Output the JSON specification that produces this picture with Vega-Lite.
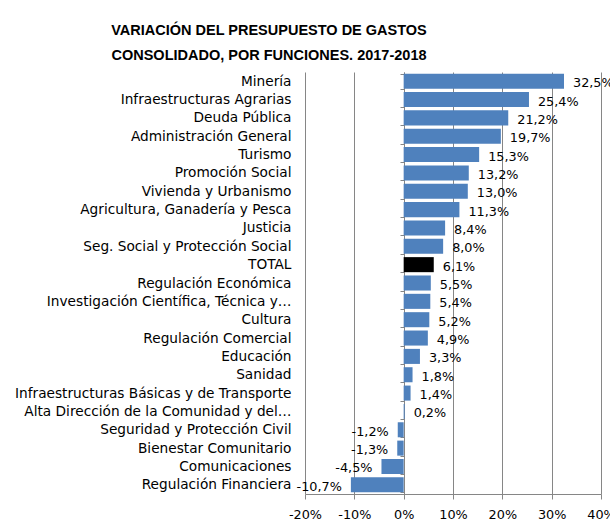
{
  "$schema": "https://vega.github.io/schema/vega-lite/v6.json",
  "autosize": "none",
  "width": 296,
  "height": 422,
  "padding": {"left": 305, "top": 72, "right": 9, "bottom": 34},
  "background": "white",
  "title": {
    "text": ["VARIACIÓN DEL PRESUPUESTO DE GASTOS", "CONSOLIDADO, POR FUNCIONES. 2017-2018"],
    "anchor": "middle",
    "frame": "group",
    "dx": -184,
    "offset": 2,
    "font": "Liberation Sans",
    "fontSize": 14.5,
    "fontWeight": "bold",
    "lineHeight": 25,
    "color": "black"
  },
  "data": {
    "values": [
      {"funcion": "Minería", "variacion": 0.325},
      {"funcion": "Infraestructuras Agrarias", "variacion": 0.254},
      {"funcion": "Deuda Pública", "variacion": 0.212},
      {"funcion": "Administración General", "variacion": 0.197},
      {"funcion": "Turismo", "variacion": 0.153},
      {"funcion": "Promoción Social", "variacion": 0.132},
      {"funcion": "Vivienda y Urbanismo", "variacion": 0.130},
      {"funcion": "Agricultura, Ganadería y Pesca", "variacion": 0.113},
      {"funcion": "Justicia", "variacion": 0.084},
      {"funcion": "Seg. Social y Protección Social", "variacion": 0.080},
      {"funcion": "TOTAL", "variacion": 0.061},
      {"funcion": "Regulación Económica", "variacion": 0.055},
      {"funcion": "Investigación Científica, Técnica y…", "variacion": 0.054},
      {"funcion": "Cultura", "variacion": 0.052},
      {"funcion": "Regulación Comercial", "variacion": 0.049},
      {"funcion": "Educación", "variacion": 0.033},
      {"funcion": "Sanidad", "variacion": 0.018},
      {"funcion": "Infraestructuras Básicas y de Transporte", "variacion": 0.014},
      {"funcion": "Alta Dirección de la Comunidad y del…", "variacion": 0.002},
      {"funcion": "Seguridad y Protección Civil", "variacion": -0.012},
      {"funcion": "Bienestar Comunitario", "variacion": -0.013},
      {"funcion": "Comunicaciones", "variacion": -0.045},
      {"funcion": "Regulación Financiera", "variacion": -0.107}
    ]
  },
  "encoding": {
    "y": {
      "field": "funcion",
      "type": "nominal",
      "sort": null,
      "title": null,
      "scale": {"paddingInner": 0.18, "paddingOuter": 0.09},
      "axis": {
        "offset": -99,
        "domain": true,
        "domainColor": "#868686",
        "ticks": true,
        "tickBand": "extent",
        "tickSize": 4,
        "tickColor": "#868686",
        "labelPadding": 109,
        "labelLimit": 400,
        "labelFont": "DejaVu Sans",
        "labelFontSize": 13.7,
        "labelColor": "black",
        "grid": false
      }
    },
    "x": {
      "field": "variacion",
      "type": "quantitative",
      "title": null,
      "scale": {"domain": [-0.2, 0.4], "nice": false, "zero": true},
      "axis": {
        "values": [-0.2, -0.1, 0, 0.1, 0.2, 0.3, 0.4],
        "format": ".0%",
        "grid": true,
        "gridColor": "#868686",
        "gridOpacity": 1,
        "domainColor": "#868686",
        "tickColor": "#868686",
        "tickSize": 5,
        "labelOverlap": false,
        "labelFlush": false,
        "labelBound": false,
        "labelFont": "DejaVu Sans",
        "labelFontSize": 12.8,
        "labelColor": "black",
        "labelPadding": 9
      }
    }
  },
  "layer": [
    {
      "mark": {"type": "bar", "stroke": null},
      "encoding": {
        "color": {
          "condition": {"test": "datum.funcion === 'TOTAL'", "value": "#000000"},
          "value": "#4F81BD"
        }
      }
    },
    {
      "transform": [{"filter": "datum.variacion >= 0"}],
      "mark": {"type": "text", "align": "left", "baseline": "middle", "dx": 9, "dy": 2, "font": "DejaVu Sans", "fontSize": 12.8, "color": "black"},
      "encoding": {
        "text": {"field": "variacion", "type": "quantitative", "format": ".1%"}
      }
    },
    {
      "transform": [{"filter": "datum.variacion < 0"}],
      "mark": {"type": "text", "align": "right", "baseline": "middle", "dx": -9, "dy": 2, "font": "DejaVu Sans", "fontSize": 12.8, "color": "black"},
      "encoding": {
        "text": {"field": "variacion", "type": "quantitative", "format": ".1%"}
      }
    }
  ],
  "config": {
    "view": {"stroke": null},
    "locale": {
      "number": {"decimal": ",", "thousands": ".", "grouping": [3], "currency": ["", " €"], "minus": "-"}
    }
  }
}
